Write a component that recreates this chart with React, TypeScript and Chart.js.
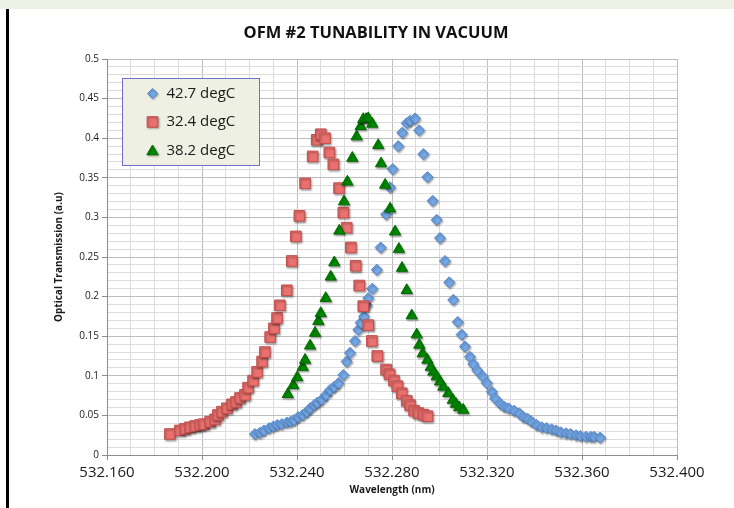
import { useEffect, useRef } from 'react';
import { Chart, registerables } from 'chart.js';

Chart.register(...registerables);

// Wavelength scans (nm) and optical transmission (a.u.) at three temperatures
const wavelength427 = [
  532.2223, 532.2244, 532.2261, 532.2283, 532.23, 532.2317, 532.2336, 532.2357, 532.2373, 532.2387,
  532.2405, 532.2424, 532.2441, 532.2455, 532.2472, 532.2485, 532.2504, 532.2522, 532.2539, 532.2556,
  532.2574, 532.2595, 532.2609, 532.2623, 532.2644, 532.2658, 532.2668, 532.2682, 532.2693, 532.27,
  532.2717, 532.2736, 532.2752, 532.2775, 532.2792, 532.2803, 532.2826, 532.2843, 532.2862, 532.2876,
  532.2897, 532.2914, 532.2932, 532.2949, 532.2971, 532.2988, 532.3002, 532.3023, 532.3041, 532.3058,
  532.3077, 532.3093, 532.3107, 532.3128, 532.3142, 532.3159, 532.3182, 532.3199, 532.322, 532.3234,
  532.3255, 532.3272, 532.329, 532.3314, 532.3336, 532.3353, 532.337, 532.3388, 532.3409, 532.343,
  532.3451, 532.3472, 532.3491, 532.351, 532.3533, 532.3552, 532.3575, 532.3594, 532.3617, 532.3637,
  532.3651, 532.3676,
];
const transmission427 = [
  0.0265, 0.028, 0.031, 0.034, 0.036, 0.038, 0.039, 0.041, 0.042, 0.044,
  0.048, 0.0505, 0.0547, 0.059, 0.063, 0.066, 0.07, 0.0758, 0.082, 0.086,
  0.0905, 0.101, 0.118, 0.129, 0.144, 0.158, 0.167, 0.175, 0.189, 0.198,
  0.21, 0.234, 0.262, 0.304, 0.338, 0.361, 0.39, 0.407, 0.419, 0.422,
  0.425, 0.41, 0.38, 0.351, 0.321, 0.297, 0.274, 0.245, 0.218, 0.196,
  0.168, 0.152, 0.137, 0.124, 0.115, 0.107, 0.099, 0.091, 0.08, 0.0716,
  0.065, 0.061, 0.059, 0.056, 0.0526, 0.048, 0.046, 0.042, 0.038, 0.035,
  0.034, 0.0325, 0.031, 0.0287, 0.0274, 0.0265, 0.025, 0.024, 0.023, 0.023,
  0.023, 0.022,
];

const wavelength324 = [
  532.1865, 532.1907, 532.1928, 532.1949, 532.1971, 532.1992, 532.2008, 532.2034, 532.2055, 532.2067,
  532.2084, 532.2105, 532.2126, 532.2143, 532.216, 532.2181, 532.2194, 532.2215, 532.2232, 532.2253,
  532.2265, 532.2287, 532.2303, 532.2316, 532.2328, 532.2357, 532.2378, 532.2395, 532.241, 532.2434,
  532.2466, 532.2483, 532.25, 532.2518, 532.2536, 532.2553, 532.2577, 532.2595, 532.2609, 532.2627,
  532.2647, 532.2662, 532.2679, 532.27, 532.2715, 532.2738, 532.2775, 532.2789, 532.2808, 532.2822,
  532.2841, 532.2862, 532.2876, 532.2893, 532.2911, 532.2932, 532.2949,
];
const transmission324 = [
  0.0265, 0.031, 0.033, 0.035, 0.0366, 0.038, 0.039, 0.042, 0.045, 0.0505,
  0.0547, 0.059, 0.064, 0.067, 0.072, 0.076, 0.085, 0.094, 0.105, 0.118,
  0.13, 0.149, 0.16, 0.173, 0.189, 0.208, 0.245, 0.276, 0.302, 0.343,
  0.377, 0.398, 0.405, 0.4, 0.382, 0.367, 0.337, 0.306, 0.287, 0.262,
  0.239, 0.214, 0.188, 0.164, 0.144, 0.125, 0.108, 0.102, 0.094, 0.087,
  0.078, 0.0686, 0.063, 0.056, 0.053, 0.051, 0.049,
];

const wavelength382 = [
  532.2361, 532.2384, 532.2401, 532.2424, 532.2434, 532.2455, 532.2476, 532.249, 532.25, 532.2521,
  532.2542, 532.2557, 532.2578, 532.2598, 532.2612, 532.2633, 532.2651, 532.2668, 532.2679, 532.2691,
  532.27, 532.2717, 532.2742, 532.2754, 532.2771, 532.2792, 532.2813, 532.2829, 532.2842, 532.2862,
  532.2883, 532.2904, 532.2915, 532.2929, 532.2949, 532.2963, 532.2974, 532.2988, 532.3002, 532.3016,
  532.3037, 532.3056, 532.3069, 532.3083, 532.31,
];
const transmission382 = [
  0.0766, 0.088, 0.098, 0.111, 0.12, 0.138, 0.154, 0.169, 0.179, 0.198,
  0.225, 0.243, 0.283, 0.32, 0.345, 0.375, 0.402, 0.415, 0.424, 0.424,
  0.425, 0.418, 0.391, 0.368, 0.341, 0.311, 0.282, 0.26, 0.236, 0.208,
  0.176, 0.152, 0.139, 0.128, 0.12, 0.111, 0.105, 0.099, 0.0926, 0.086,
  0.078, 0.0694, 0.0644, 0.06, 0.0568,
];

const seriesLabels = ['42.7 degC', '32.4 degC', '38.2 degC'];
const chartTitle = 'OFM #2 TUNABILITY IN VACUUM';
const xAxisTitle = 'Wavelength (nm)';
const yAxisTitle = 'Optical Transmission (a.u)';

const X_MIN = 532.16;
const X_MAX = 532.4;
const Y_MIN = 0;
const Y_MAX = 0.5;

const FONT = '"Open Sans", "DejaVu Sans", sans-serif';

const BLUE = { fill: '#74a7e4', stroke: '#5587cc' };
const RED = { fill: '#ea716f', stroke: '#c4514e' };
const GREEN = { fill: '#008a00', stroke: '#006b00' };

const toPoints = (xs: number[], ys: number[]) => xs.map((x, i) => ({ x, y: ys[i] }));

// Tick value helpers: minor grid every 0.01, labelled lines every 0.04 (x) / 0.05 (y)
const isMajorX = (v: number) => Math.round(v * 1000) % 40 === 0;
const isMajorY = (v: number) => Math.round(v * 100) % 5 === 0;

const gridColor = (major: (v: number) => boolean) => (ctx: any) =>
  ctx.tick && major(ctx.tick.value) ? '#bdbdbd' : '#dcdcdc';
const tickMarkColor = (major: (v: number) => boolean) => (ctx: any) =>
  ctx.tick && major(ctx.tick.value) ? '#8c8c8c' : 'rgba(0,0,0,0)';

function drawMarker(ctx: CanvasRenderingContext2D, shape: string, x: number, y: number, r: number, c: { fill: string; stroke: string }) {
  ctx.beginPath();
  if (shape === 'rectRot') {
    ctx.moveTo(x - r, y);
    ctx.lineTo(x, y - r);
    ctx.lineTo(x + r, y);
    ctx.lineTo(x, y + r);
  } else if (shape === 'rect') {
    const s = r * Math.SQRT1_2;
    ctx.rect(x - s, y - s, 2 * s, 2 * s);
  } else {
    const a = (2 * Math.PI) / 3;
    ctx.moveTo(x, y - r);
    ctx.lineTo(x + Math.sin(a) * r, y - Math.cos(a) * r);
    ctx.lineTo(x + Math.sin(2 * a) * r, y - Math.cos(2 * a) * r);
  }
  ctx.closePath();
  ctx.fillStyle = c.fill;
  ctx.fill();
  ctx.lineWidth = 1;
  ctx.strokeStyle = c.stroke;
  ctx.stroke();
}

const markerShadow = {
  id: 'markerShadow',
  beforeDatasetsDraw(chart: any) {
    const ctx = chart.ctx;
    ctx.save();
    ctx.shadowColor = 'rgba(0,0,0,0.35)';
    ctx.shadowBlur = 2;
    ctx.shadowOffsetX = 1;
    ctx.shadowOffsetY = 1.5;
  },
  afterDatasetsDraw(chart: any) {
    chart.ctx.restore();
  },
};

const titleAndLegend = {
  id: 'titleAndLegend',
  afterDraw(chart: any) {
    const ctx: CanvasRenderingContext2D = chart.ctx;
    const area = chart.chartArea;
    ctx.save();
    // chart title
    ctx.fillStyle = '#111';
    ctx.font = `bold 16.5px ${FONT}`;
    ctx.textAlign = 'center';
    ctx.textBaseline = 'middle';
    ctx.fillText(chartTitle, 376, 33);

    // legend box inside the plot area
    const bx = area.left + 15.5;
    const by = area.top + 19.5;
    const bw = 137;
    const bh = 87;
    ctx.fillStyle = '#eef0e4';
    ctx.fillRect(bx, by, bw, bh);
    ctx.strokeStyle = '#6f6fc9';
    ctx.lineWidth = 1;
    ctx.strokeRect(bx, by, bw, bh);

    const entries = [
      { shape: 'rectRot', r: 5, c: BLUE },
      { shape: 'rect', r: 7.5, c: RED },
      { shape: 'triangle', r: 6.5, c: GREEN },
    ];
    ctx.font = `15px ${FONT}`;
    ctx.textAlign = 'left';
    ctx.textBaseline = 'middle';
    entries.forEach((e, i) => {
      const cy = by + 15 + i * 28.5;
      ctx.save();
      ctx.shadowColor = 'rgba(0,0,0,0.3)';
      ctx.shadowBlur = 2;
      ctx.shadowOffsetX = 1;
      ctx.shadowOffsetY = 1;
      drawMarker(ctx, e.shape, bx + 30, cy + (e.shape === 'triangle' ? 1 : 0), e.r, e.c);
      ctx.restore();
      ctx.fillStyle = '#1a1a1a';
      ctx.fillText(seriesLabels[i], bx + 44, cy);
    });
    ctx.restore();
  },
};

export default function App() {
  const canvasRef = useRef<HTMLCanvasElement | null>(null);

  useEffect(() => {
    document.body.style.margin = '0';
    const canvas = canvasRef.current;
    if (!canvas) return;

    const xTicks: { value: number }[] = [];
    for (let i = 0; i <= 24; i++) xTicks.push({ value: +(X_MIN + i * 0.01).toFixed(3) });
    const yTicks: { value: number }[] = [];
    for (let i = 0; i <= 50; i++) yTicks.push({ value: +(i * 0.01).toFixed(2) });

    const chart = new Chart(canvas, {
      type: 'scatter',
      data: {
        datasets: [
          {
            label: seriesLabels[0],
            data: toPoints(wavelength427, transmission427),
            pointStyle: 'rectRot',
            pointRadius: 5.5,
            backgroundColor: BLUE.fill,
            borderColor: BLUE.stroke,
            borderWidth: 1,
            order: 2,
          },
          {
            label: seriesLabels[1],
            data: toPoints(wavelength324, transmission324),
            pointStyle: 'rect',
            pointRadius: 7.5,
            backgroundColor: RED.fill,
            borderColor: RED.stroke,
            borderWidth: 1,
            order: 1,
          },
          {
            label: seriesLabels[2],
            data: toPoints(wavelength382, transmission382),
            pointStyle: 'triangle',
            pointRadius: 6.5,
            backgroundColor: GREEN.fill,
            borderColor: GREEN.stroke,
            borderWidth: 1,
            order: 0,
          },
        ],
      },
      options: {
        responsive: false,
        animation: false,
        events: [],
        layout: { padding: { left: 49, top: 59, right: 57, bottom: 8 } },
        plugins: {
          legend: { display: false },
          title: { display: false },
          tooltip: { enabled: false },
        },
        scales: {
          x: {
            type: 'linear',
            min: X_MIN,
            max: X_MAX,
            afterBuildTicks: (scale: any) => {
              scale.ticks = xTicks.map((t) => ({ ...t }));
            },
            afterFit: (scale: any) => {
              scale.height = 45;
            },
            ticks: {
              autoSkip: false,
              maxRotation: 0,
              padding: 4,
              color: '#1a1a1a',
              font: { family: FONT, size: 15 },
              callback: (v: any) => (isMajorX(Number(v)) ? Number(v).toFixed(3) : ''),
            },
            grid: {
              color: gridColor(isMajorX),
              tickColor: tickMarkColor(isMajorX),
              tickLength: 5,
              lineWidth: 1,
            },
            border: { color: '#8c8c8c' },
            title: {
              display: true,
              text: xAxisTitle,
              color: '#1a1a1a',
              font: { family: FONT, size: 10, weight: 'bold' },
            },
          },
          y: {
            type: 'linear',
            min: Y_MIN,
            max: Y_MAX,
            afterBuildTicks: (scale: any) => {
              scale.ticks = yTicks.map((t) => ({ ...t }));
            },
            afterFit: (scale: any) => {
              scale.width = 58;
            },
            ticks: {
              autoSkip: false,
              padding: 3,
              color: '#1a1a1a',
              font: { family: FONT, size: 10 },
              callback: (v: any) => (isMajorY(Number(v)) ? String(+Number(v).toFixed(2)) : ''),
            },
            grid: {
              color: gridColor(isMajorY),
              tickColor: tickMarkColor(isMajorY),
              tickLength: 5,
              lineWidth: 1,
            },
            border: { color: '#8c8c8c' },
            title: {
              display: true,
              text: yAxisTitle,
              color: '#1a1a1a',
              font: { family: FONT, size: 10, weight: 'bold' },
            },
          },
        },
      },
      plugins: [markerShadow, titleAndLegend],
    } as any);

    return () => chart.destroy();
  }, []);

  return (
    <div style={{ position: 'relative', width: 734, height: 508, background: '#ffffff', overflow: 'hidden' }}>
      <div style={{ position: 'absolute', left: 0, top: 0, width: 734, height: 9, background: '#eef1e6' }} />
      <div style={{ position: 'absolute', left: 6, top: 9, width: 3, height: 499, background: '#000000' }} />
      <canvas ref={canvasRef} width={734} height={508} style={{ position: 'absolute', left: 0, top: 0 }} />
    </div>
  );
}
